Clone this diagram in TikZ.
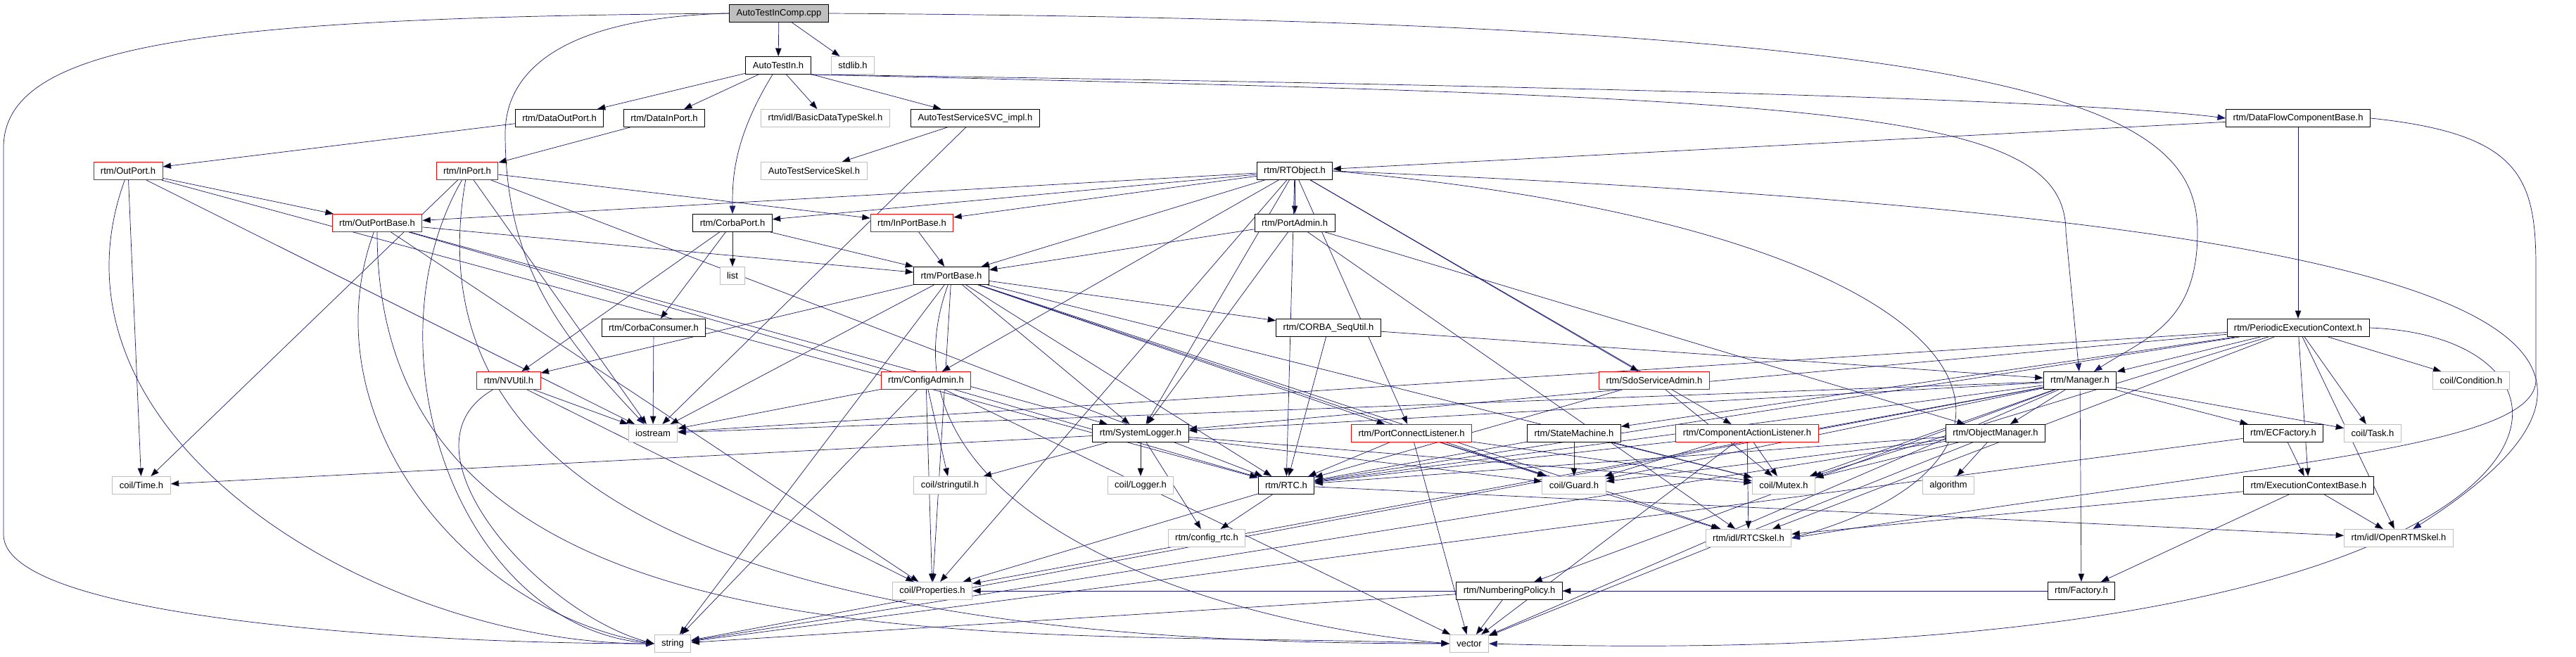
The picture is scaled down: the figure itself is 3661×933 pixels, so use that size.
\documentclass[tikz,border=0pt]{standalone}
\usepackage{fontspec}
\setmainfont{Liberation Sans}
\usetikzlibrary{arrows.meta,backgrounds}
\definecolor{midnight}{HTML}{191970}
\tikzset{every picture/.style={line width=0.55pt}}
\tikzset{
  hfile/.style={draw=black, fill=white, inner xsep=0.2cm, inner ysep=0pt, minimum height=0.5cm, font=\fontsize{7.4}{8}\selectfont},
  sysfile/.style={hfile, draw=gray!50},
  cutfile/.style={hfile, draw=red},
  rootfile/.style={hfile, fill=gray!50},
  incl/.style={draw=midnight, -{Triangle[length=0.23cm,width=0.17cm]}},
}

\begin{document}
\begin{tikzpicture}[x=0.02cm, y=-0.02cm]
    \useasboundingbox (0,0) rectangle (3661,933);
    % header files
    \node[rootfile] (cpp) at (1107,19) {AutoTestInComp.cpp};
    \node[hfile] (atin) at (1106,93) {AutoTestIn.h};
    \node[sysfile] (stdlib) at (1212,93) {stdlib.h};
    \node[hfile] (dop) at (795,168) {rtm/DataOutPort.h};
    \node[hfile] (dip) at (944,168) {rtm/DataInPort.h};
    \node[sysfile] (bdts) at (1173,168) {rtm/idl/BasicDataTypeSkel.h};
    \node[hfile] (svc) at (1386,168) {AutoTestServiceSVC\_impl.h};
    \node[hfile] (dfcb) at (3266,168) {rtm/DataFlowComponentBase.h};
    \node[cutfile] (outp) at (182,243) {rtm/OutPort.h};
    \node[cutfile] (inp) at (664,243) {rtm/InPort.h};
    \node[sysfile] (skel) at (1157,243) {AutoTestServiceSkel.h};
    \node[hfile] (rtobj) at (1840,243) {rtm/RTObject.h};
    \node[cutfile] (opb) at (536,317) {rtm/OutPortBase.h};
    \node[hfile] (cport) at (1041,317) {rtm/CorbaPort.h};
    \node[cutfile] (ipb) at (1296,317) {rtm/InPortBase.h};
    \node[hfile] (padm) at (1840,317) {rtm/PortAdmin.h};
    \node[sysfile] (list) at (1041,392) {list};
    \node[hfile] (pbase) at (1352,392) {rtm/PortBase.h};
    \node[hfile] (ccons) at (929,466) {rtm/CorbaConsumer.h};
    \node[hfile] (seq) at (1888,466) {rtm/CORBA\_SeqUtil.h};
    \node[hfile] (pec) at (3266,466) {rtm/PeriodicExecutionContext.h};
    \node[cutfile] (nvu) at (723,541) {rtm/NVUtil.h};
    \node[cutfile] (cadm) at (1316,541) {rtm/ConfigAdmin.h};
    \node[cutfile] (sdo) at (2351,541) {rtm/SdoServiceAdmin.h};
    \node[hfile] (mgr) at (2956,541) {rtm/Manager.h};
    \node[sysfile] (cond) at (3512,541) {coil/Condition.h};
    \node[sysfile] (ios) at (928,616) {iostream};
    \node[hfile] (slog) at (1621,616) {rtm/SystemLogger.h};
    \node[cutfile] (pcl) at (2006,616) {rtm/PortConnectListener.h};
    \node[hfile] (sm) at (2237,616) {rtm/StateMachine.h};
    \node[cutfile] (cal) at (2483,616) {rtm/ComponentActionListener.h};
    \node[hfile] (omgr) at (2836,616) {rtm/ObjectManager.h};
    \node[hfile] (ecf) at (3245,616) {rtm/ECFactory.h};
    \node[sysfile] (task) at (3372,616) {coil/Task.h};
    \node[sysfile] (time) at (201,690) {coil/Time.h};
    \node[sysfile] (sutil) at (1350,690) {coil/stringutil.h};
    \node[sysfile] (logger) at (1621,690) {coil/Logger.h};
    \node[hfile] (rtc) at (1828,690) {rtm/RTC.h};
    \node[sysfile] (guard) at (2237,690) {coil/Guard.h};
    \node[sysfile] (mutex) at (2535,690) {coil/Mutex.h};
    \node[sysfile] (algo) at (2769,690) {algorithm};
    \node[hfile] (ecb) at (3281,690) {rtm/ExecutionContextBase.h};
    \node[sysfile] (cfgrtc) at (1715,765) {rtm/config\_rtc.h};
    \node[sysfile] (rtcskel) at (2485,765) {rtm/idl/RTCSkel.h};
    \node[sysfile] (ortm) at (3409,765) {rtm/idl/OpenRTMSkel.h};
    \node[sysfile] (props) at (1325,840) {coil/Properties.h};
    \node[hfile] (npol) at (2145,840) {rtm/NumberingPolicy.h};
    \node[hfile] (fac) at (2958,840) {rtm/Factory.h};
    \node[sysfile] (str) at (956,915) {string};
    \node[sysfile] (vec) at (2088,915) {vector};

    \begin{scope}[on background layer]
    % includes
    \draw[incl] (cpp) edge (atin) edge (stdlib);
    \draw[incl] (cpp.west) .. controls (300,25) and (5,60) .. (5,210) -- (5,760)
        .. controls (5,880) and (600,915) .. (str.west);
    \draw[incl] (cpp.west) .. controls (800,25) and (718,100) .. (718,190)
        .. controls (718,380) and (800,480) .. (ios);
    \draw[incl] (cpp.east) .. controls (2900,30) and (3123,150) .. (3123,330)
        .. controls (3123,460) and (3050,480) .. (mgr);
    \draw[incl] (atin) edge (dop) edge (dip) edge (bdts) edge (svc);
    \draw[incl] (atin) .. controls (1040,200) and (1041,260) .. (cport);
    \draw[incl] (atin.south east) .. controls (1800,115) and (2900,135) .. (dfcb.west);
    \draw[incl] (atin.south east) .. controls (2600,140) and (2936,150) .. (2936,330) -- (mgr);
    \draw[incl] (dop) edge (outp);
    \draw[incl] (dip) edge (inp);
    \draw[incl] (svc) edge (skel) edge (ios);
    \draw[incl] (dfcb) edge (rtobj) edge (pec);
    \draw[incl] (dfcb.east) .. controls (3580,190) and (3604,250) .. (3604,380) -- (3604,540)
        .. controls (3604,640) and (3200,660) .. (rtcskel.east);
    \draw[incl] (outp) edge (opb) edge (time) edge (ios) edge (rtc)
        edge[out=-110, in=180] (str.west);
    \draw[incl] (inp) edge (ipb) edge (time) edge (rtc) edge (ios)
        edge[out=-120, in=175] (str.west) edge[out=-100, in=180] (vec.west);
    \draw[incl] (opb) edge (pbase) edge (slog) edge (props) edge (rtc)
        edge[out=-110, in=170] (str.west) edge[out=-90, in=178] (vec.west);
    \draw[incl] (cport) edge (list) edge (pbase) edge (ccons) edge (nvu);
    \draw[incl] (ccons) edge (ios);
    \draw[incl] (ipb) edge (pbase);
    \draw[incl] (nvu) edge (ios) edge (props) edge[out=-150, in=165] (str.west);
    \draw[incl] (rtobj) edge (opb) edge (cport) edge (ipb) edge (pbase) edge (padm)
        edge (slog) edge (cadm) edge (props) edge (rtc) edge (pcl) edge (cal) edge (sdo);
    \draw[incl] (rtobj.east) .. controls (3250,300) and (3950,420) .. (ortm);
    \draw[incl] (rtobj.east) .. controls (2860,330) and (2960,650) .. (rtcskel.east);
    \draw[incl] (padm) edge (pbase) edge (slog) edge (omgr) edge (rtcskel);
    \draw[incl] (pbase) edge (nvu) edge (ios) edge (str) edge (props) edge (slog) edge (rtc)
        edge (pcl) edge (seq) edge (guard) edge (mutex) edge (rtcskel)
        edge[out=-110, in=175] (vec.west);
    \draw[incl] (seq) edge (rtc) edge (mgr);
    \draw[incl] (pec) edge (ios) edge (slog) edge (rtc) edge (mgr) edge (sm) edge (mutex)
        edge (task) edge (cond) edge (rtcskel) edge (ortm) edge (ecb);
    \draw[incl] (pec.east) .. controls (3760,480) and (3700,960) .. (vec.east);
    \draw[incl] (mgr) edge (ios) edge (slog) edge (rtc) edge (guard) edge (mutex) edge (omgr)
        edge (ecf) edge (task) edge (fac) edge (npol) edge (str) edge (vec) edge (props);
    \draw[incl] (omgr) edge (algo) edge (guard) edge (mutex) edge (rtc) edge (str) edge (vec);
    \draw[incl] (ecf) edge (ecb) edge (str);
    \draw[incl] (ecb) edge (ortm) edge (fac) edge (rtcskel);
    \draw[incl] (fac) edge (props) edge (npol);
    \draw[incl] (npol) edge (vec) edge (str);
    \draw[incl] (slog) edge (logger) edge (sutil) edge (time) edge (cfgrtc) edge (guard) edge (mutex);
    \draw[incl] (cadm) edge (ios) edge (str) edge (sutil) edge (props) edge (vec);
    \draw[incl] (rtc) edge (cfgrtc) edge (props) edge (ortm);
    \draw[incl] (pcl) edge (rtc) edge (vec) edge (rtcskel) edge (guard) edge (mutex);
    \draw[incl] (sm) edge (guard) edge (rtc) edge (mutex);
    \draw[incl] (cal) edge (guard) edge (rtcskel) edge (mutex) edge (vec) edge (rtc);
    \draw[incl] (sdo) edge (rtc) edge (mutex);
    \end{scope}
\end{tikzpicture}
\end{document}
